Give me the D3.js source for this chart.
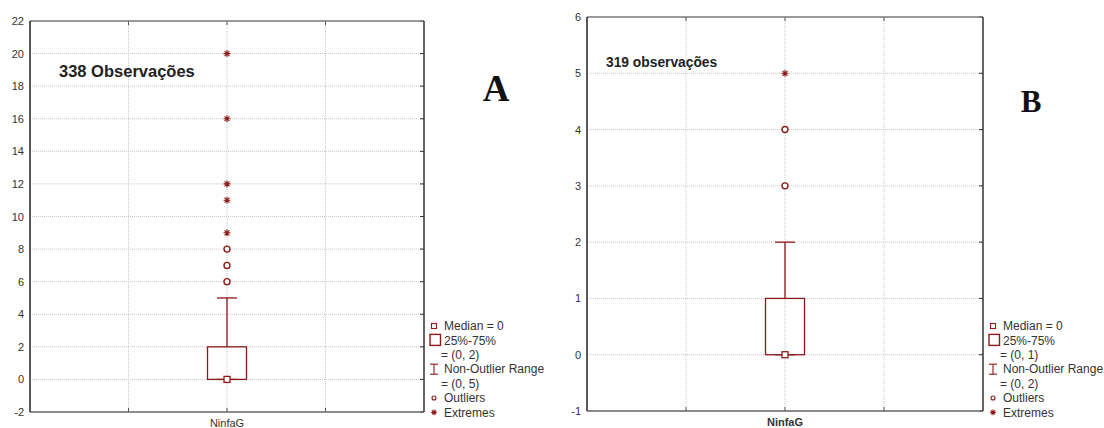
<!DOCTYPE html>
<html>
<head>
<meta charset="utf-8">
<script src="https://cdn.jsdelivr.net/npm/d3@7"></script>
<style>
  body { margin: 0; background: #fff; }
  svg { display: block; font-family: "Liberation Sans", Arial, sans-serif; }
</style>
</head>
<body>
<div id="chart"></div>
<script>
// data
const categories = ["NinfaG"];
const obsLabels = ["338 Observações", "319 observações"];
const panelLetters = ["A", "B"];

const yTicksA = [-2, 0, 2, 4, 6, 8, 10, 12, 14, 16, 18, 20, 22];
const boxA = [0, 0, 2];          // q1, median, q3
const whiskerA = [0, 5];
const outliersA = [6, 7, 8];
const extremesA = [9, 11, 12, 16, 20];
const legendA = ["Median = 0", "25%-75%", "= (0, 2)", "Non-Outlier Range", "= (0, 5)", "Outliers", "Extremes"];

const yTicksB = [-1, 0, 1, 2, 3, 4, 5, 6];
const boxB = [0, 0, 1];
const whiskerB = [0, 2];
const outliersB = [3, 4];
const extremesB = [5];
const legendB = ["Median = 0", "25%-75%", "= (0, 1)", "Non-Outlier Range", "= (0, 2)", "Outliers", "Extremes"];

const red = "#8b1a1a";
const width = 1104, height = 428;

const svg = d3.select("#chart").append("svg")
  .attr("width", width)
  .attr("height", height);

const panels = [
  { x0: 30, x1: 424, y0: 21, y1: 412, ticks: yTicksA, box: boxA, whisker: whiskerA,
    outliers: outliersA, extremes: extremesA, legend: legendA,
    obs: obsLabels[0], obsX: 59, obsY: 77, obsSize: 16.5,
    letter: panelLetters[0], letterX: 496, letterY: 101, letterSize: 37, catBold: false },
  { x0: 587, x1: 983, y0: 17, y1: 411, ticks: yTicksB, box: boxB, whisker: whiskerB,
    outliers: outliersB, extremes: extremesB, legend: legendB,
    obs: obsLabels[1], obsX: 606, obsY: 67, obsSize: 13.8,
    letter: panelLetters[1], letterX: 1031, letterY: 112, letterSize: 31, catBold: true }
];

// eight-spoke star used for extremes
function star(r) {
  const a = r * Math.SQRT1_2;
  return `M${-r},0H${r}M0,${-r}V${r}M${-a},${-a}L${a},${a}M${-a},${a}L${a},${-a}`;
}

function drawPanel(p) {
  const g = svg.append("g");
  const y = d3.scaleLinear()
    .domain(d3.extent(p.ticks))
    .range([p.y1, p.y0]);
  const x = d3.scaleLinear()
    .domain([0, 4])
    .range([p.x0, p.x1]);

  // grid
  g.append("g")
    .selectAll("line")
    .data(p.ticks.slice(1, -1))
    .join("line")
      .attr("x1", p.x0).attr("x2", p.x1)
      .attr("y1", d => y(d)).attr("y2", d => y(d))
      .attr("stroke", "#c8c8c8")
      .attr("stroke-dasharray", "1,1");
  g.append("g")
    .selectAll("line")
    .data([1, 2, 3])
    .join("line")
      .attr("x1", d => x(d)).attr("x2", d => x(d))
      .attr("y1", p.y0).attr("y2", p.y1)
      .attr("stroke", "#c8c8c8")
      .attr("stroke-dasharray", "1,1");

  // left axis with labels
  const left = g.append("g")
    .attr("transform", `translate(${p.x0},0)`)
    .call(d3.axisLeft(y).tickValues(p.ticks).tickSize(0).tickPadding(6).tickFormat(d => String(d)));
  left.select(".domain").remove();
  left.selectAll("text")
    .style("font-size", "11px")
    .style("font-family", "'Liberation Sans', Arial, sans-serif")
    .attr("fill", "#333");

  // inner ticks on right, top, bottom
  g.append("g")
    .selectAll("line")
    .data(p.ticks)
    .join("line")
      .attr("x1", p.x1 - 4).attr("x2", p.x1)
      .attr("y1", d => y(d)).attr("y2", d => y(d))
      .attr("stroke", "#333");
  g.append("g")
    .selectAll("line")
    .data([1, 2, 3])
    .join("line")
      .attr("x1", d => x(d)).attr("x2", d => x(d))
      .attr("y1", p.y0).attr("y2", p.y0 + 4)
      .attr("stroke", "#555");
  g.append("g")
    .selectAll("line")
    .data([1, 2, 3])
    .join("line")
      .attr("x1", d => x(d)).attr("x2", d => x(d))
      .attr("y1", p.y1 - 4).attr("y2", p.y1)
      .attr("stroke", "#555");

  // frame
  g.append("line").attr("x1", p.x0).attr("x2", p.x1).attr("y1", p.y0).attr("y2", p.y0)
    .attr("stroke", "#777").attr("stroke-width", 1.5);
  g.append("line").attr("x1", p.x0).attr("x2", p.x1).attr("y1", p.y1).attr("y2", p.y1)
    .attr("stroke", "#666").attr("stroke-width", 1.5);
  g.append("line").attr("x1", p.x0).attr("x2", p.x0).attr("y1", p.y0).attr("y2", p.y1)
    .attr("stroke", "#222").attr("stroke-width", 1.5);
  g.append("line").attr("x1", p.x1).attr("x2", p.x1).attr("y1", p.y0).attr("y2", p.y1)
    .attr("stroke", "#333").attr("stroke-width", 1.5);

  // category label
  g.append("text")
    .attr("x", x(2))
    .attr("y", p.y1 + 15)
    .attr("text-anchor", "middle")
    .style("font-size", "11px")
    .style("font-weight", p.catBold ? "bold" : "normal")
    .attr("fill", "#333")
    .text(categories[0]);

  // box plot
  const cx = x(2);
  const boxW = 39, capW = 20;
  const bp = g.append("g").attr("stroke", red).attr("stroke-width", 1.3);
  bp.append("line")
    .attr("x1", cx).attr("x2", cx)
    .attr("y1", y(p.box[2])).attr("y2", y(p.whisker[1]));
  bp.append("line")
    .attr("x1", cx - capW / 2).attr("x2", cx + capW / 2)
    .attr("y1", y(p.whisker[1])).attr("y2", y(p.whisker[1]));
  bp.append("line")
    .attr("x1", cx - capW / 2).attr("x2", cx + capW / 2)
    .attr("y1", y(p.whisker[0])).attr("y2", y(p.whisker[0]));
  bp.append("rect")
    .attr("x", cx - boxW / 2)
    .attr("y", y(p.box[2]))
    .attr("width", boxW)
    .attr("height", y(p.box[0]) - y(p.box[2]))
    .attr("fill", "none");
  bp.append("rect")
    .attr("x", cx - 3).attr("y", y(p.box[1]) - 3)
    .attr("width", 6).attr("height", 6)
    .attr("fill", "#fff");

  g.append("g")
    .selectAll("circle")
    .data(p.outliers)
    .join("circle")
      .attr("cx", cx)
      .attr("cy", d => y(d))
      .attr("r", 3)
      .attr("fill", "#fff")
      .attr("stroke", red)
      .attr("stroke-width", 1.4);
  g.append("g")
    .selectAll("path")
    .data(p.extremes)
    .join("path")
      .attr("transform", d => `translate(${cx},${y(d)})`)
      .attr("d", star(3.5))
      .attr("fill", "none")
      .attr("stroke", red)
      .attr("stroke-width", 1.1);

  // observation count
  g.append("text")
    .attr("x", p.obsX)
    .attr("y", p.obsY)
    .style("font-size", p.obsSize + "px")
    .style("font-weight", "bold")
    .attr("fill", "#222")
    .text(p.obs);

  // panel letter
  g.append("text")
    .attr("x", p.letterX)
    .attr("y", p.letterY)
    .attr("text-anchor", "middle")
    .style("font-family", "'Liberation Serif', 'Times New Roman', serif")
    .style("font-size", p.letterSize + "px")
    .style("font-weight", "bold")
    .attr("fill", "#111")
    .text(p.letter);

  // legend
  const lx = p.x1 + 9;
  const ly0 = 326, step = 14.4;
  const leg = g.append("g");
  leg.selectAll("text")
    .data(p.legend)
    .join("text")
      .attr("x", (d, i) => (i === 2 || i === 4) ? lx + 8 : lx + 11)
      .attr("y", (d, i) => ly0 + i * step)
      .attr("dy", "0.35em")
      .style("font-size", "12px")
      .attr("fill", "#333")
      .text(d => d);
  const ls = leg.append("g").attr("stroke", red).attr("fill", "#fff").attr("stroke-width", 1.1);
  ls.append("rect").attr("x", lx - 1.5).attr("y", ly0 - 2.5).attr("width", 5).attr("height", 5);
  ls.append("rect").attr("x", lx - 3).attr("y", ly0 + step - 6).attr("width", 10.5).attr("height", 11)
    .attr("stroke-width", 1.4);
  const wy = ly0 + 3 * step;
  ls.append("line").attr("x1", lx + 1).attr("x2", lx + 1).attr("y1", wy - 5).attr("y2", wy + 5);
  ls.append("line").attr("x1", lx - 3).attr("x2", lx + 5).attr("y1", wy - 5).attr("y2", wy - 5);
  ls.append("line").attr("x1", lx - 3).attr("x2", lx + 5).attr("y1", wy + 5).attr("y2", wy + 5);
  ls.append("circle").attr("cx", lx + 1).attr("cy", ly0 + 5 * step).attr("r", 2);
  ls.append("path")
    .attr("transform", `translate(${lx + 1},${ly0 + 6 * step})`)
    .attr("d", star(2.8))
    .attr("fill", "none");
}

panels.forEach(drawPanel);
</script>
</body>
</html>
